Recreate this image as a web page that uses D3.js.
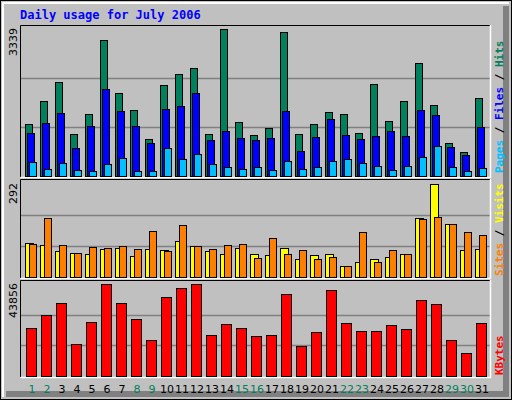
<!DOCTYPE html>
<html><head><meta charset="utf-8">
<script src="https://cdn.jsdelivr.net/npm/d3@7"></script>
<style>body{margin:0;background:#fff}svg{display:block}</style>
</head><body>
<script>
// Webalizer-style daily usage chart, July 2006
const days = d3.range(1, 32);
const weekend = [1, 2, 8, 9, 15, 16, 22, 23, 29, 30];
const hits = [1174,1696,2128,947,1401,3082,1878,1492,833,2060,2310,2446,947,3339,1220,924,1083,3264,947,1174,1447,1401,970,2083,1242,1696,2560,1606,743,538,1765];
const files = [970,1197,1424,629,1129,1969,1469,1129,743,1515,1583,1878,811,1015,856,811,856,1469,561,879,1288,924,833,902,1015,902,1492,1378,652,470,1106];
const pages = [311,152,288,129,107,266,402,107,107,629,379,493,266,198,152,198,129,334,152,198,334,379,288,220,129,220,425,674,198,107,175];
const visits = [108,102,83,76,73,89,92,67,89,86,114,98,83,73,92,73,70,92,57,70,73,35,48,57,63,73,184,292,165,86,89];
const sites = [105,184,102,76,95,92,98,89,146,83,162,98,89,102,105,60,124,73,86,57,63,35,140,48,86,73,181,187,165,140,133];
const kbytes = [22650,28914,34697,15421,25541,43856,34697,26986,17348,37588,41925,43856,19758,24577,22650,19276,19758,39034,14457,21204,40962,25059,21686,21686,24095,22167,36143,34215,17348,11084,25059];

const W = 512, H = 400;
const svg = d3.select("body").append("svg").attr("width", W).attr("height", H);
const font = "DejaVu Sans Mono, monospace";

// frame
svg.append("rect").attr("x", 0.5).attr("y", 0.5).attr("width", W - 1).attr("height", H - 1)
  .attr("fill", "#c0c0c0").attr("stroke", "#000");
svg.append("path").attr("d", `M${W-6},6V${H-6}H6`).attr("fill", "none").attr("stroke", "#808080").attr("stroke-width", 6);
svg.append("path").attr("d", `M3,${H-3}V3H${W-3}`).attr("fill", "none").attr("stroke", "#fff").attr("stroke-width", 2);

svg.append("text").attr("x", 20).attr("y", 19).attr("font-family", font).attr("font-weight", "bold")
  .attr("font-size", 12).attr("fill", "#0000ff").text("Daily usage for July 2006");

const x = d3.scaleBand().domain(days).range([25, 490]).paddingInner(0).paddingOuter(0);

function panel(y0, y1, yTop, max) {
  const g = svg.append("g");
  const y = d3.scaleLinear().domain([0, max]).range([y1 - 1, yTop]);
  g.append("rect").attr("x", 20).attr("y", y0).attr("width", 471).attr("height", y1 - y0).attr("fill", "#c0c0c0");
  [1 / 3, 2 / 3].forEach(f => {
    const gy = Math.round(y(max * f)) + 0.5;
    g.append("line").attr("x1", 21).attr("x2", 490).attr("y1", gy).attr("y2", gy).attr("stroke", "#808080").attr("stroke-width", 1.5);
  });
  g.append("path").attr("d", `M20.5,${y1}V${y0 + 0.5}H490.5`).attr("fill", "none").attr("stroke", "#000");
  g.append("path").attr("d", `M20.5,${y1 + 0.5}H490.5V${y0}`).attr("fill", "none").attr("stroke", "#fff").attr("stroke-width", 1.5);
  g.append("text").attr("transform", `translate(17,${yTop - 1}) rotate(-90)`).attr("text-anchor", "end")
    .attr("font-family", "DejaVu Sans, sans-serif").attr("font-size", 11).attr("fill", "#000").text(max);
  return { g, y };
}

function bars(p, data, dx, w, color) {
  p.g.selectAll(null).data(data).join("rect")
    .attr("x", (d, i) => x(days[i]) + dx + 0.5)
    .attr("y", d => Math.round(p.y(d)) + 0.5)
    .attr("width", w)
    .attr("height", d => p.y(0) - Math.round(p.y(d)))
    .attr("fill", color).attr("stroke", "#000").attr("stroke-width", 1);
}

const topPanel = panel(25, 177, 29, d3.max(hits));
bars(topPanel, hits, 0, 7, "#00805c");
bars(topPanel, files, 2, 7, "#0000ff");
bars(topPanel, pages, 4, 7, "#00c0ff");

const midPanel = panel(179, 278, 184, d3.max(visits.concat(sites)));
bars(midPanel, visits, 0, 8, "#ffff00");
bars(midPanel, sites, 4, 7, "#ff8000");

const botPanel = panel(280, 377, 284, d3.max(kbytes));
bars(botPanel, kbytes, 1, 10, "#ff0000");

// day labels
svg.append("g").selectAll("text").data(days).join("text")
  .attr("x", d => x(d) + 7).attr("y", 393).attr("text-anchor", "middle")
  .attr("font-family", "DejaVu Sans, sans-serif").attr("font-size", 11)
  .attr("fill", d => weekend.includes(d) ? "#00805c" : "#000").text(d => d);

// right side legends
function legend(yBottom, parts) {
  const t = svg.append("text").attr("transform", `translate(503,${yBottom}) rotate(-90)`)
    .attr("font-family", font).attr("font-weight", "bold").attr("font-size", 11);
  parts.forEach(([s, c]) => t.append("tspan").attr("fill", c).text(s));
}
legend(173, [["Pages", "#00c0ff"], [" / ", "#000"], ["Files", "#0000ff"], [" / ", "#000"], ["Hits", "#00805c"]]);
legend(276, [["Sites", "#ff8000"], [" / ", "#000"], ["Visits", "#ffff00"]]);
legend(375, [["KBytes", "#ff0000"]]);
</script>
</body></html>
